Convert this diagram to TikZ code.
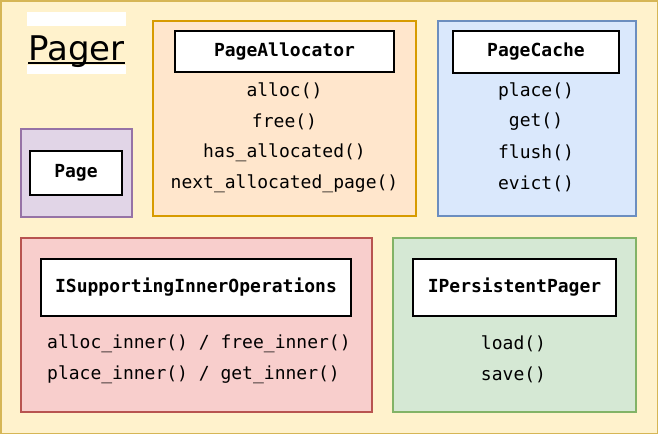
\documentclass[tikz,border=0pt]{standalone}
\usepackage{fontspec}
\setmainfont{DejaVu Sans}
\setsansfont{DejaVu Sans}
\setmonofont{DejaVu Sans Mono}
\definecolor{bgfill}{HTML}{FFF2CC}\definecolor{bgline}{HTML}{D6B656}
\definecolor{orfill}{HTML}{FFE6CC}\definecolor{orline}{HTML}{D79B00}
\definecolor{blfill}{HTML}{DAE8FC}\definecolor{blline}{HTML}{6C8EBF}
\definecolor{pufill}{HTML}{E1D5E7}\definecolor{puline}{HTML}{9673A6}
\definecolor{rdfill}{HTML}{F8CECC}\definecolor{rdline}{HTML}{B85450}
\definecolor{grfill}{HTML}{D5E8D4}\definecolor{grline}{HTML}{82B366}
\tikzset{
  container/.style={draw, line width=1.5pt, inner sep=0pt},
  titlebox/.style={draw=black, fill=white, line width=1.5pt, inner sep=0pt,
    font=\ttfamily\bfseries\fontsize{18}{22}\selectfont},
  method/.style={inner sep=0pt, font=\ttfamily\fontsize{18}{22}\selectfont},
}
\begin{document}
\begin{tikzpicture}[x=1pt,y=-1pt]
\useasboundingbox (0,0) rectangle (658,434);
\node[container, fill=bgfill, draw=bgline, minimum width=656.5pt, minimum height=432.5pt] (bg) at (329,217) {};
% title
\fill[white] (27,12) rectangle (126,26);
\fill[white] (27,65) rectangle (126,74);
\node[inner sep=0pt, anchor=base west, font=\fontsize{34}{40}\selectfont] (title) at (28,60) {Pager};
\draw[line width=2pt] ([yshift=-2.5pt]title.base west) -- ([yshift=-2.5pt]title.base east);
% PageAllocator
\node[container, fill=orfill, draw=orline, minimum width=263pt, minimum height=195pt] (alloc) at (284.5,118.5) {};
\node[titlebox, minimum width=219pt, minimum height=41pt] (allocT) at (284.5,51.5) {PageAllocator};
\node[method] (a1) at (284.5,91) {alloc()};
\node[method] (a2) at (284.5,122) {free()};
\node[method] (a3) at (284.5,153) {has\_allocated()};
\node[method] (a4) at (284.5,184) {next\_allocated\_page()};
% PageCache
\node[container, fill=blfill, draw=blline, minimum width=198pt, minimum height=195pt] (cache) at (537,118.5) {};
\node[titlebox, minimum width=166pt, minimum height=42pt] (cacheT) at (536,52) {PageCache};
\node[method] (c1) at (536,91) {place()};
\node[method] (c2) at (536,122) {get()};
\node[method] (c3) at (536,153) {flush()};
\node[method] (c4) at (536,184) {evict()};
% Page
\node[container, fill=pufill, draw=puline, minimum width=111pt, minimum height=88pt] (page) at (76.5,173) {};
\node[titlebox, minimum width=92pt, minimum height=44pt] (pageT) at (76,173) {Page};
% ISupportingInnerOperations
\node[container, fill=rdfill, draw=rdline, minimum width=351pt, minimum height=174pt] (isio) at (196.5,325) {};
\node[titlebox, minimum width=310pt, minimum height=57pt] (isioT) at (196,287.5) {ISupportingInnerOperations};
\node[method, anchor=west] (i1) at (47,344) {alloc\_inner() / free\_inner()};
\node[method, anchor=west] (i2) at (47,375) {place\_inner() / get\_inner()};
% IPersistentPager
\node[container, fill=grfill, draw=grline, minimum width=243pt, minimum height=174pt] (ipp) at (514.5,325) {};
\node[titlebox, minimum width=203pt, minimum height=57pt] (ippT) at (514.5,287.5) {IPersistentPager};
\node[method] (p1) at (513.5,344) {load()};
\node[method] (p2) at (513.5,375) {save()};
\end{tikzpicture}
\end{document}
